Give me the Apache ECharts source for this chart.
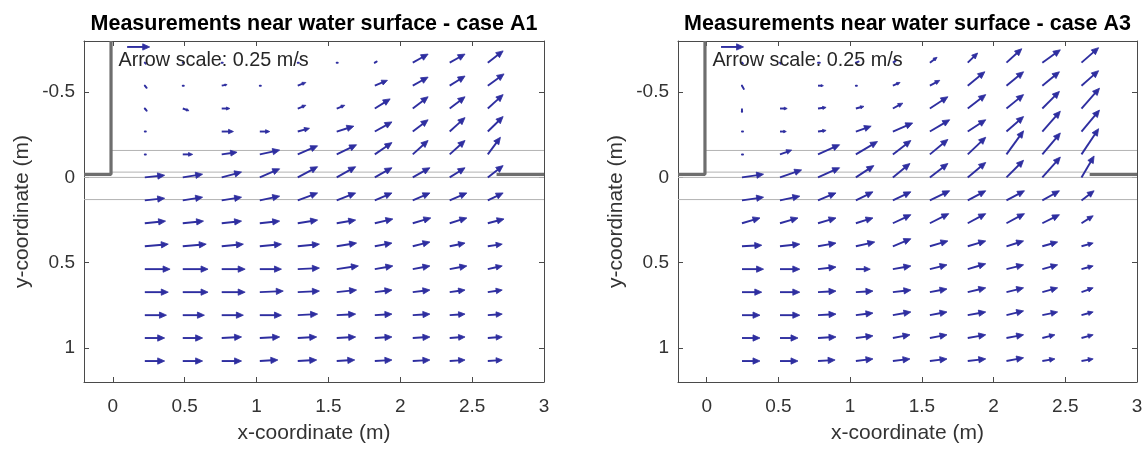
<!DOCTYPE html>
<html><head><meta charset="utf-8">
<script src="https://cdn.jsdelivr.net/npm/echarts@6/dist/echarts.min.js"></script>
<style>html,body{margin:0;padding:0;background:#fff}#c{width:1148px;height:449px}</style>
</head><body><div id="c"></div>
<script>
// ---------- data ----------
const titles = ['Measurements near water surface - case A1', 'Measurements near water surface - case A3'];
const xTicks = [0, 0.5, 1, 1.5, 2, 2.5, 3];
const yTicks = [-0.5, 0, 0.5, 1];
const rowsY = [-0.673, -0.538, -0.404, -0.269, -0.135, 0, 0.135, 0.269, 0.404, 0.538, 0.673, 0.808, 0.942, 1.077];
const colsA1 = [0.223, 0.487, 0.758, 1.023, 1.287, 1.558, 1.823, 2.087, 2.344, 2.609];
const colsA3 = [0.246, 0.511, 0.776, 1.04, 1.298, 1.556, 1.82, 2.09, 2.34, 2.613];
// velocity components (m/s), one row per y level, positive v = increasing y
const uA1 = [
 [0.01,0.01,0.01,0,0.01,0.01,0.02,0.17,0.17,0.17],
 [0.02,0.01,0.06,0.01,0.09,0,0.14,0.17,0.17,0.18],
 [0.02,0.07,0.09,0,0.09,0.09,0.17,0.17,0.17,0.17],
 [0.01,0,0.13,0.11,0.13,0.19,0.19,0.17,0.17,0.17],
 [0.01,0.11,0.17,0.22,0.22,0.22,0.19,0.17,0.17,0.14],
 [0.22,0.22,0.22,0.22,0.22,0.21,0.19,0.19,0.17,0.17],
 [0.22,0.22,0.22,0.22,0.22,0.21,0.19,0.19,0.19,0.17],
 [0.23,0.23,0.22,0.22,0.22,0.21,0.20,0.20,0.19,0.18],
 [0.26,0.26,0.24,0.24,0.24,0.22,0.19,0.19,0.17,0.16],
 [0.28,0.28,0.26,0.24,0.24,0.24,0.20,0.19,0.19,0.16],
 [0.26,0.28,0.26,0.26,0.24,0.22,0.19,0.19,0.17,0.16],
 [0.24,0.24,0.24,0.24,0.22,0.21,0.19,0.19,0.17,0.16],
 [0.22,0.22,0.22,0.22,0.21,0.21,0.19,0.19,0.17,0.16],
 [0.22,0.22,0.22,0.20,0.21,0.20,0.19,0.19,0.17,0.16]
];
const vA1 = [
 [0.01,0,0,0,0,0,-0.01,-0.08,-0.08,-0.11],
 [0.02,0,-0.01,0,-0.03,0,-0.05,-0.08,-0.09,-0.11],
 [0.02,0.02,0,0,-0.03,-0.03,-0.09,-0.11,-0.11,-0.13],
 [0,0,0,0,-0.03,-0.05,-0.09,-0.11,-0.13,-0.14],
 [0,0,-0.02,-0.04,-0.08,-0.09,-0.11,-0.13,-0.13,-0.16],
 [-0.02,-0.03,-0.05,-0.08,-0.10,-0.10,-0.09,-0.09,-0.09,-0.11],
 [-0.02,-0.03,-0.03,-0.04,-0.07,-0.07,-0.07,-0.07,-0.07,-0.07],
 [-0.02,-0.02,-0.02,-0.02,-0.03,-0.03,-0.04,-0.05,-0.05,-0.04],
 [-0.02,-0.02,-0.02,-0.02,-0.02,-0.03,-0.03,-0.04,-0.03,-0.02],
 [0,0,0,0,-0.01,-0.03,-0.03,-0.03,-0.03,-0.03],
 [0,0,0,-0.01,-0.01,-0.02,-0.02,-0.02,-0.02,-0.02],
 [0,0,0,0,-0.01,-0.01,-0.01,-0.01,-0.01,-0.01],
 [0,0,-0.01,-0.01,-0.01,-0.01,-0.01,-0.01,-0.01,-0.01],
 [0,0,0,-0.01,-0.01,-0.01,-0.01,-0.01,-0.01,-0.01]
];
const uA3 = [
 [0.01,0.01,0.02,0.03,0.04,0.08,0.11,0.17,0.20,0.19],
 [0.02,0,0.06,0.01,0.08,0.11,0.19,0.19,0.19,0.19],
 [0,0.08,0.09,0.09,0.11,0.20,0.20,0.19,0.19,0.20],
 [0.01,0.07,0.09,0.17,0.22,0.22,0.20,0.19,0.20,0.20],
 [0.01,0.13,0.24,0.24,0.20,0.20,0.20,0.19,0.20,0.19],
 [0.24,0.24,0.24,0.20,0.19,0.20,0.20,0.19,0.20,0.14],
 [0.24,0.22,0.20,0.19,0.20,0.22,0.20,0.20,0.19,0.14],
 [0.20,0.20,0.20,0.19,0.20,0.21,0.20,0.20,0.19,0.13],
 [0.22,0.22,0.20,0.21,0.20,0.20,0.20,0.19,0.17,0.13],
 [0.24,0.22,0.20,0.16,0.20,0.19,0.20,0.19,0.17,0.13],
 [0.22,0.22,0.20,0.19,0.20,0.19,0.20,0.19,0.17,0.13],
 [0.20,0.22,0.20,0.19,0.20,0.19,0.20,0.19,0.17,0.13],
 [0.20,0.20,0.20,0.19,0.19,0.19,0.20,0.19,0.14,0.13],
 [0.20,0.20,0.19,0.19,0.19,0.19,0.20,0.19,0.14,0.13]
];
const vA3 = [
 [0.01,0.01,0,-0.01,-0.02,-0.05,-0.09,-0.13,-0.12,-0.14],
 [0.03,0,0,0,-0.03,-0.05,-0.13,-0.13,-0.13,-0.14],
 [0.04,0,-0.01,-0.02,-0.05,-0.11,-0.13,-0.13,-0.16,-0.19],
 [0,0,-0.01,-0.05,-0.08,-0.11,-0.11,-0.14,-0.19,-0.20],
 [0,-0.04,-0.09,-0.12,-0.13,-0.14,-0.16,-0.22,-0.20,-0.24],
 [-0.03,-0.07,-0.09,-0.11,-0.13,-0.13,-0.14,-0.16,-0.19,-0.20],
 [-0.03,-0.04,-0.07,-0.08,-0.08,-0.09,-0.09,-0.09,-0.09,-0.09],
 [-0.05,-0.05,-0.05,-0.05,-0.08,-0.09,-0.09,-0.09,-0.08,-0.07],
 [-0.01,-0.02,-0.03,-0.04,-0.07,-0.05,-0.05,-0.05,-0.04,-0.03],
 [0,0,-0.02,0,-0.03,-0.04,-0.05,-0.04,-0.04,-0.03],
 [0,0,-0.01,-0.01,-0.02,-0.03,-0.04,-0.04,-0.04,-0.04],
 [0,0,-0.01,-0.02,-0.03,-0.03,-0.03,-0.04,-0.03,-0.03],
 [0,0,-0.01,-0.02,-0.03,-0.03,-0.03,-0.03,-0.03,-0.03],
 [0,0,-0.01,-0.02,-0.02,-0.02,-0.02,-0.03,-0.02,-0.02]
];
// reference arrow [x, y, u, v] and label
const scaleArrow = [0.1, -0.765, 0.25, 0];
const scaleLabel = 'Arrow scale: 0.25 m/s';
const scaleLabelPos = [0.04, -0.685];
// structures (walls and guide lines), data coordinates
const wallLeft = [[-0.2, -0.018], [-0.012, -0.018], [-0.012, -0.8]];
const wallRight = [[2.67, -0.018], [3, -0.018]];
const guideLines = [
  [[-0.012, -0.158], [3, -0.158]],
  [[-0.012, -0.031], [2.67, -0.031]],
  [[-0.2, 0.0], [3, 0.0]],
  [[-0.2, 0.13], [3, 0.13]]
];

// ---------- drawing ----------
const S = 0.628;           // data length per m/s
const ARROW = '#2e2ea0';
const FONT = 'Liberation Sans';
const AXC = '#4a4a4a';

function arrowGroup(p0, p1) {
  const dx = p1[0] - p0[0], dy = p1[1] - p0[1];
  const L = Math.hypot(dx, dy);
  if (L < 4) {
    const ex = L < 1 ? p0[0] + 1 : p1[0], ey = L < 1 ? p0[1] : p1[1];
    return {type: 'line', shape: {x1: p0[0], y1: p0[1], x2: ex, y2: ey},
      style: {stroke: ARROW, lineWidth: 2, lineCap: 'round'}};
  }
  const ux = dx / L, uy = dy / L;
  const hl = Math.min(7, L * 0.42), hw = hl * 0.45;
  const bx = p1[0] - ux * hl, by = p1[1] - uy * hl;
  return {type: 'group', children: [
    {type: 'line', shape: {x1: p0[0], y1: p0[1], x2: bx + ux, y2: by + uy},
      style: {stroke: ARROW, lineWidth: 1.9}},
    {type: 'polygon', shape: {points: [[p1[0], p1[1]], [bx - uy * hw, by + ux * hw], [bx + uy * hw, by - ux * hw]]},
      style: {fill: ARROW, stroke: ARROW, lineWidth: 0.8, lineJoin: 'round'}}
  ]};
}
function renderArrow(params, api) {
  const x = api.value(0), y = api.value(1), u = api.value(2), v = api.value(3);
  if (u === 0 && v === 0) return null;
  return arrowGroup(api.coord([x, y]), api.coord([x + u * S, y + v * S]));
}
function renderScale(params, api) {
  const g = arrowGroup(api.coord([api.value(0), api.value(1)]),
    api.coord([api.value(0) + api.value(2) * S, api.value(1) + api.value(3) * S]));
  const tp = api.coord(scaleLabelPos);
  return {type: 'group', children: [g, {type: 'text', x: tp[0], y: tp[1],
    style: {text: scaleLabel, fill: '#262626', font: '19.8px "' + FONT + '"', textVerticalAlign: 'middle', textAlign: 'left'}}]};
}
function buildArrows(cols, U, V) {
  const out = [];
  rowsY.forEach((y, r) => cols.forEach((x, c) => out.push([x, y, U[r][c], V[r][c]])));
  return out;
}

const grids = [
  {left: 84, top: 41, width: 460, height: 344},
  {left: 678, top: 41, width: 459, height: 344}
];
const xAxes = [], yAxes = [], series = [], titleOpts = [];
const cases = [[colsA1, uA1, vA1], [colsA3, uA3, vA3]];
grids.forEach((g, i) => {
  titleOpts.push({text: titles[i], left: g.left + g.width / 2 - 5, top: 8, textAlign: 'center',
    textStyle: {fontFamily: FONT, fontSize: 21.5, fontWeight: 'bold', color: '#000'}});
  const common = {type: 'value', gridIndex: i, splitLine: {show: false},
    axisLine: {show: true, onZero: false, lineStyle: {color: AXC, width: 1}}};
  xAxes.push(Object.assign({}, common, {min: -0.2, max: 3, position: 'bottom',
    axisTick: {show: true, inside: true, length: 5, customValues: xTicks, lineStyle: {color: AXC}},
    axisLabel: {customValues: xTicks, color: '#333', fontSize: 19, margin: 15, fontFamily: FONT, formatter: v => String(v)},
    name: 'x-coordinate (m)', nameLocation: 'middle', nameGap: 41,
    nameTextStyle: {color: '#333', fontSize: 21, fontFamily: FONT}}));
  xAxes.push(Object.assign({}, common, {min: -0.2, max: 3, position: 'top',
    axisTick: {show: true, inside: true, length: 5, customValues: xTicks, lineStyle: {color: AXC}},
    axisLabel: {show: false}}));
  yAxes.push(Object.assign({}, common, {min: -0.8, max: 1.2, inverse: true, position: 'left',
    axisTick: {show: true, inside: true, length: 5, customValues: yTicks, lineStyle: {color: AXC}},
    axisLabel: {customValues: yTicks, color: '#333', fontSize: 19, margin: 9, fontFamily: FONT, formatter: v => String(v)},
    name: 'y-coordinate (m)', nameLocation: 'middle', nameGap: 51, nameRotate: 90,
    nameTextStyle: {color: '#333', fontSize: 21, fontFamily: FONT}}));
  yAxes.push(Object.assign({}, common, {min: -0.8, max: 1.2, inverse: true, position: 'right',
    axisTick: {show: true, inside: true, length: 5, customValues: yTicks, lineStyle: {color: AXC}},
    axisLabel: {show: false}}));
  const xi = i * 2, yi = i * 2;
  guideLines.forEach(seg => series.push({type: 'line', xAxisIndex: xi, yAxisIndex: yi, data: seg,
    showSymbol: false, silent: true, z: 1, lineStyle: {color: '#b3b3b3', width: 1}}));
  [wallLeft, wallRight].forEach(w => series.push({type: 'line', xAxisIndex: xi, yAxisIndex: yi, data: w,
    showSymbol: false, silent: true, z: 2, lineStyle: {color: '#6e6e6e', width: 3.2}}));
  series.push({type: 'custom', xAxisIndex: xi, yAxisIndex: yi, renderItem: renderArrow, z: 5, silent: true,
    encode: {x: 0, y: 1}, data: buildArrows(cases[i][0], cases[i][1], cases[i][2])});
  series.push({type: 'custom', xAxisIndex: xi, yAxisIndex: yi, renderItem: renderScale, z: 6, silent: true,
    encode: {x: 0, y: 1}, data: [scaleArrow]});
});

const chart = echarts.init(document.getElementById('c'), null, {renderer: 'canvas'});
chart.setOption({
  backgroundColor: '#fff', animation: false,
  title: titleOpts, grid: grids, xAxis: xAxes, yAxis: yAxes, series: series
});
</script></body></html>
